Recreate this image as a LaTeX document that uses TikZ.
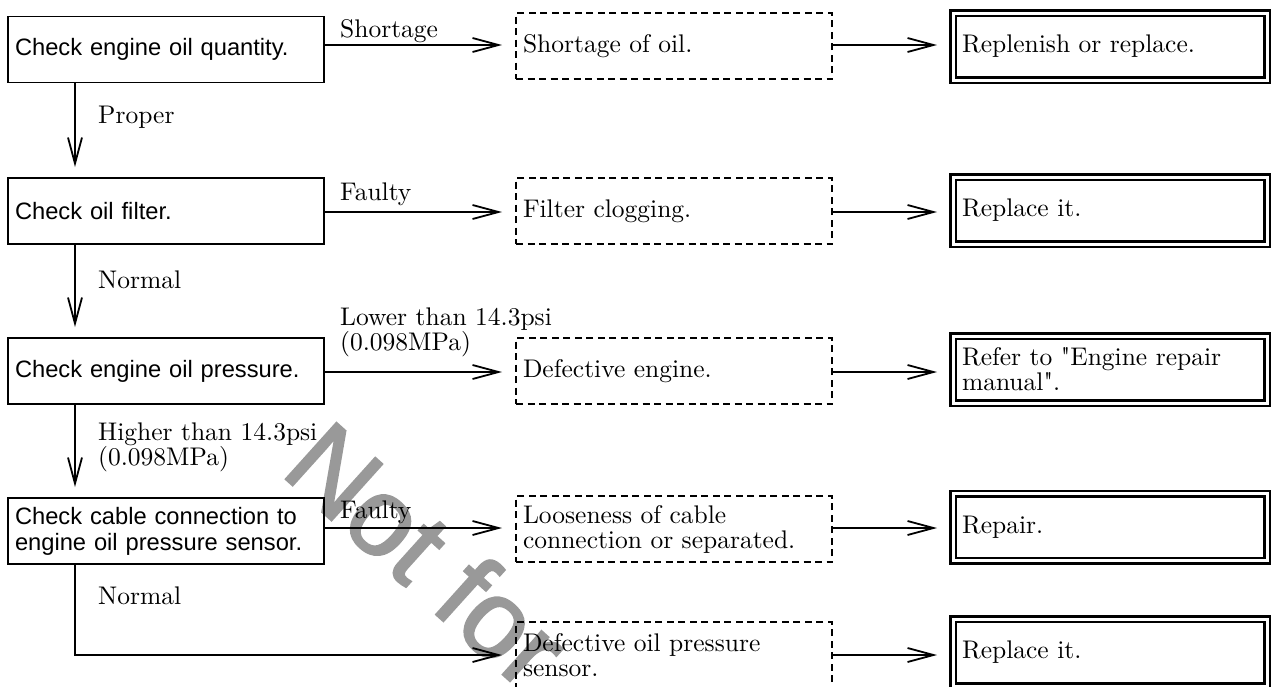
\documentclass[tikz,border=0pt]{standalone}
\usepackage{fontspec}
\setmainfont{lmroman10-regular}[Extension=.otf, Ligatures=TeXOff]
\newfontfamily\sansf{Liberation Sans}
\newfontfamily\wmfont{Liberation Sans}[FakeBold=2]
\usetikzlibrary{arrows.meta}
\begin{document}
\begin{tikzpicture}[x=1pt,y=-1pt,
  serif/.style={font=\fontsize{25.5}{25}\selectfont},
  chk/.style={draw, line width=1.8pt, outer sep=0pt, minimum width=316pt, minimum height=66pt,
    text width=302pt, inner xsep=7pt, inner ysep=0pt, align=left,
    font=\sansf\fontsize{23.7}{26}\selectfont},
  res/.style={draw, line width=1.8pt, dash pattern=on 7pt off 4.5pt, outer sep=0pt,
    minimum width=316pt, minimum height=66pt, text width=302pt, inner xsep=7pt, inner ysep=0pt,
    align=left, serif},
  act/.style={draw, line width=2.5pt, double=white, double distance=3pt, outer sep=0pt,
    minimum width=314pt, minimum height=67pt, text width=296pt, inner xsep=9pt, inner ysep=0pt,
    align=left, serif},
  arr/.style={line width=1.8pt, -{Straight Barb[length=26pt,width=14pt]}},
  lbl/.style={anchor=base west, inner sep=0pt, align=left, serif},
  wm/.style={text=black!40, inner sep=0pt, font=\wmfont\fontsize{110}{110}\selectfont}
]
\useasboundingbox (0,0) rectangle (1272,686);
% watermark (behind)
\node[wm, rotate=-42, anchor=base west] (wm) at (279,473) {Not for};

% check boxes
\node[chk] (b1) at (166,49.5) {Check engine oil quantity.};
\node[chk] (b2) at (166,211) {Check oil filter.};
\node[chk] (b3) at (166,371) {Check engine oil pressure.};
\node[chk] (b4) at (166,531) {Check cable connection to\\engine oil pressure sensor.};

% result boxes
\node[res] (d1) at (674,46) {Shortage of oil.};
\node[res] (d2) at (674,211) {Filter clogging.};
\node[res] (d3) at (674,371) {Defective engine.};
\node[res] (d4) at (674,529) {Looseness of cable\\connection or separated.};
\node[res] (d5) at (674,655) {Defective oil pressure\\sensor.};

% action boxes
\node[act] (a1) at (1110,46.5) {Replenish or replace.};
\node[act] (a2) at (1110,210.5) {Replace it.};
\node[act] (a3) at (1110,369.5) {Refer to "Engine repair\\manual".};
\node[act] (a4) at (1110,527) {Repair.};
\node[act] (a5) at (1110,652.5) {Replace it.};

% labels (base = baseline of last line)
\node[lbl] (l1) at (340,37) {Shortage};
\node[lbl] (l2) at (340,200) {Faulty};
\node[lbl] (l3) at (340,350) {Lower than 14.3psi\\(0.098MPa)};
\node[lbl] (l4) at (340,518) {Faulty};
\node[lbl] (v1) at (98,123) {Proper};
\node[lbl] (v2) at (98,288) {Normal};
\node[lbl] (v3) at (98,465) {Higher than 14.3psi\\(0.098MPa)};
\node[lbl] (v4) at (98,604) {Normal};

% vertical connectors
\draw[arr, shorten >=11pt] ([xshift=67pt]b1.south west) -- ([xshift=67pt]b2.north west);
\draw[arr, shorten >=11pt] ([xshift=67pt]b2.south west) -- ([xshift=67pt]b3.north west);
\draw[arr, shorten >=11pt] ([xshift=67pt]b3.south west) -- ([xshift=67pt]b4.north west);
\draw[arr, shorten >=14pt] ([xshift=67pt]b4.south west) |- (d5.west);

% horizontal connectors: check -> result
\draw[arr, shorten >=14pt] ([yshift=1pt]d1.west -| b1.east) -- ([yshift=1pt]d1.west);
\draw[arr, shorten >=14pt] ([yshift=-1pt]d2.west -| b2.east) -- ([yshift=-1pt]d2.west);
\draw[arr, shorten >=14pt] ([yshift=-1pt]d3.west -| b3.east) -- ([yshift=-1pt]d3.west);
\draw[arr, shorten >=14pt] ([yshift=1pt]d4.west -| b4.east) -- ([yshift=1pt]d4.west);

% result -> action
\draw[arr, shorten >=16pt] ([yshift=1pt]d1.east) -- ([yshift=1pt]d1.east -| a1.west);
\draw[arr, shorten >=16pt] ([yshift=-1pt]d2.east) -- ([yshift=-1pt]d2.east -| a2.west);
\draw[arr, shorten >=16pt] ([yshift=-1pt]d3.east) -- ([yshift=-1pt]d3.east -| a3.west);
\draw[arr, shorten >=16pt] ([yshift=1pt]d4.east) -- ([yshift=1pt]d4.east -| a4.west);
\draw[arr, shorten >=16pt] (d5.east) -- (d5.east -| a5.west);
\end{tikzpicture}
\end{document}
